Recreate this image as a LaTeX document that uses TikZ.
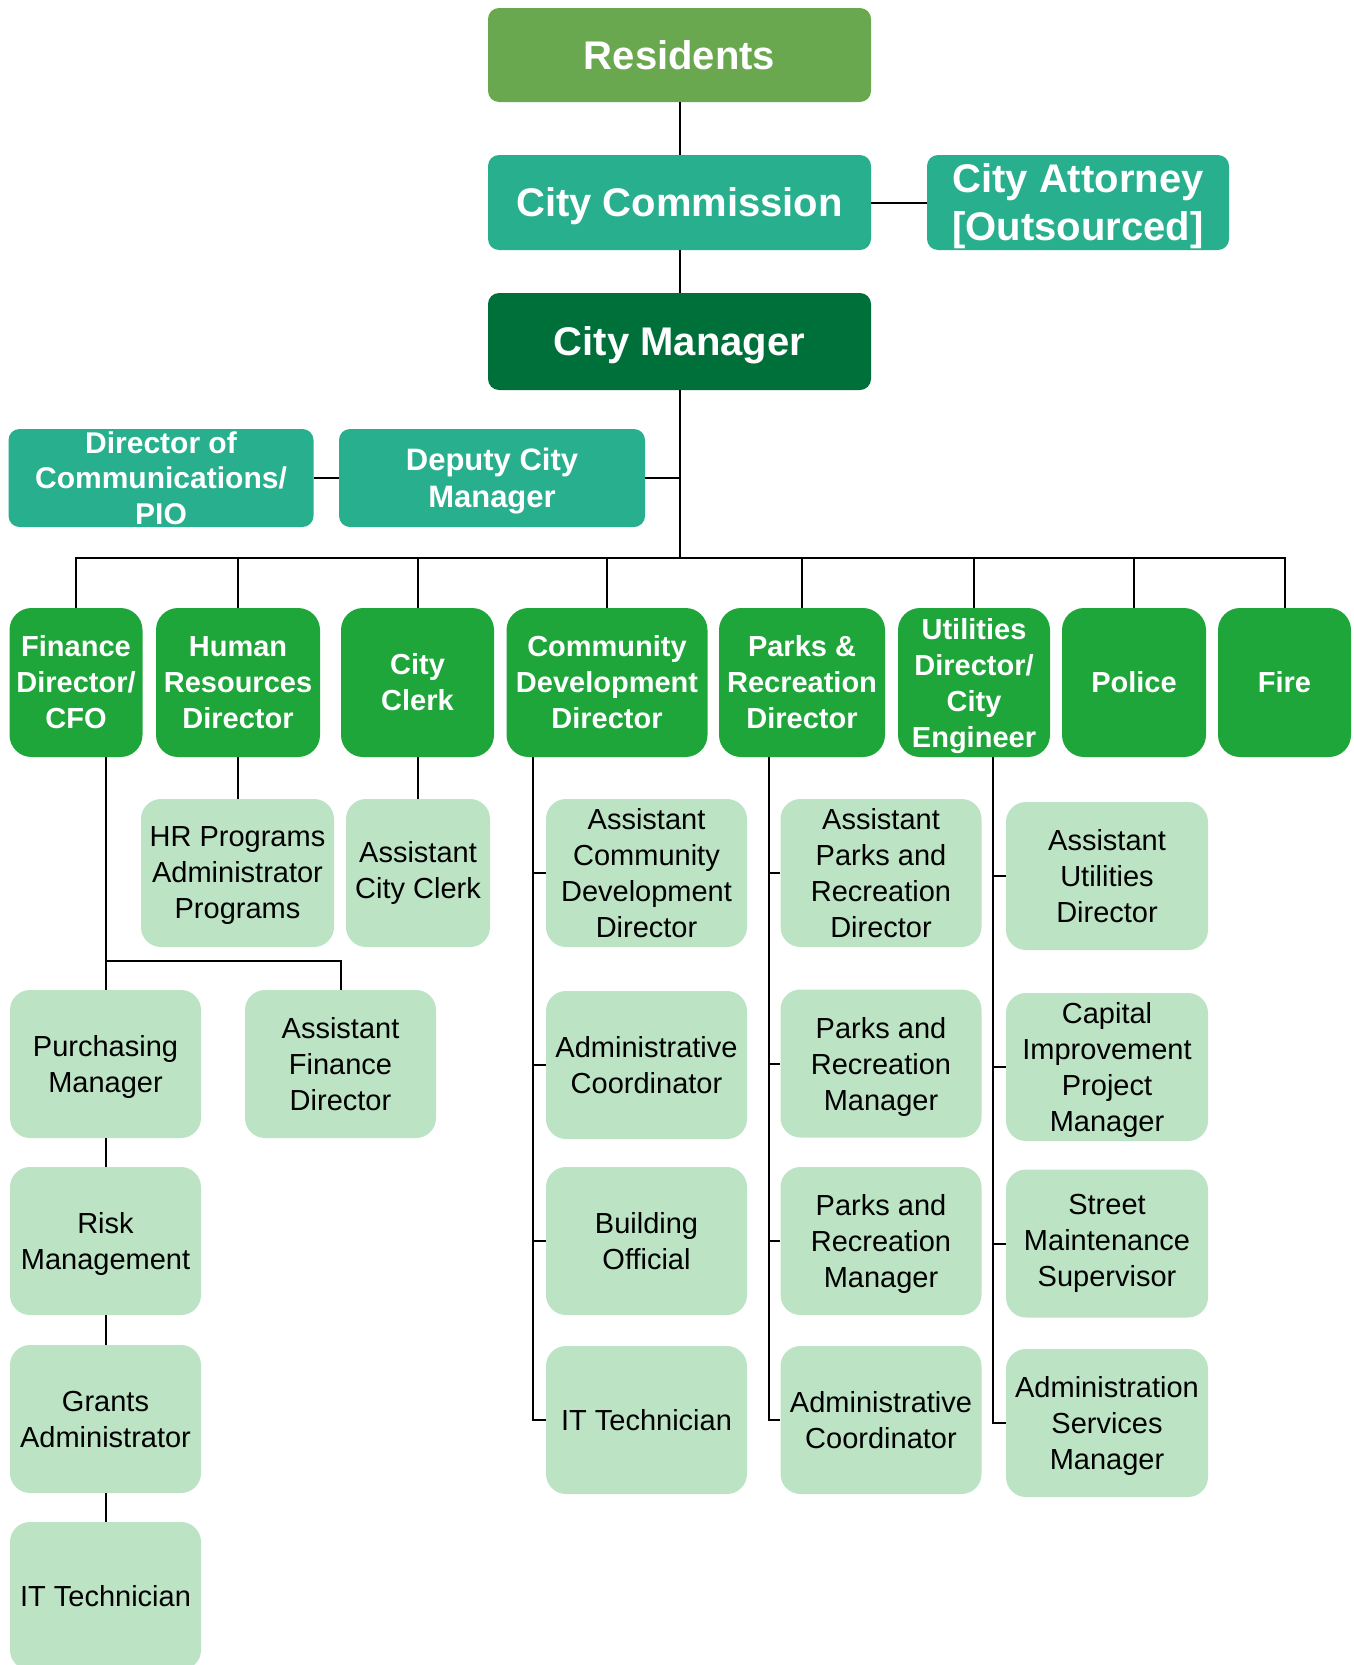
\documentclass[tikz,border=0pt]{standalone}
\usepackage{fontspec}
\setmainfont{Liberation Sans}
\definecolor{resgreen}{HTML}{6AA84F}
\definecolor{tealc}{HTML}{28AF8D}
\definecolor{cmgreen}{HTML}{00703A}
\definecolor{deptgreen}{HTML}{1FA63A}
\definecolor{lightgreen}{HTML}{BBE3C4}
\newcommand\nd[1]{\raisebox{0pt}[\height][0pt]{#1}}
\begin{document}
\begin{tikzpicture}[x=1pt,y=-1pt,
  base/.style={rectangle, inner sep=0pt, align=center, text=white, font=\fontsize{40}{48}\selectfont\bfseries},
  topbox/.style={base, rounded corners=11pt},
  dept/.style={base, fill=deptgreen, rounded corners=22pt, minimum height=149pt, font=\fontsize{29}{36}\selectfont\bfseries},
  sub/.style={rectangle, inner sep=0pt, align=center, fill=lightgreen, rounded corners=20pt, minimum height=148pt, text=black, font=\fontsize{29}{36}\selectfont},
  conn/.style={line width=2pt, black}
]
\useasboundingbox (0,0) rectangle (1354,1665);
\clip (0,0) rectangle (1354,1665);

% top levels
\node[topbox, fill=resgreen, minimum width=383pt, minimum height=94pt] (res) at (679.5,55) {Residents};
\node[topbox, fill=tealc, minimum width=383pt, minimum height=95pt] (comm) at (679.5,202.5) {\nd{City Commission}};
\node[topbox, fill=tealc, minimum width=302pt, minimum height=95pt] (att) at (1078,202.5) {City Attorney\\\nd{[Outsourced]}};
\node[topbox, fill=cmgreen, minimum width=383pt, minimum height=97pt] (cm) at (679.5,341.5) {\nd{City Manager}};
\node[topbox, fill=tealc, minimum width=305pt, minimum height=98pt, font=\fontsize{30}{35.5}\selectfont\bfseries] (pio) at (161,478) {Director of\\Communications/\\PIO};
\node[topbox, fill=tealc, minimum width=306pt, minimum height=98pt, font=\fontsize{31}{37}\selectfont\bfseries] (dep) at (492,478) {Deputy City\\\nd{Manager}};

% departments
\node[dept, minimum width=133pt] (fin) at (76,682.5) {Finance\\Director/\\CFO};
\node[dept, minimum width=164pt] (hr) at (238,682.5) {Human\\Resources\\Director};
\node[dept, minimum width=153pt] (clerk) at (417.5,682.5) {City\\Clerk};
\node[dept, minimum width=201pt] (cd) at (607,682.5) {Community\\Development\\Director};
\node[dept, minimum width=166pt] (parks) at (802,682.5) {Parks \&\\Recreation\\Director};
\node[dept, minimum width=152pt] (util) at (974,682.5) {Utilities\\Director/\\City\\\nd{Engineer}};
\node[dept, minimum width=144pt] (police) at (1134,682.5) {Police};
\node[dept, minimum width=133pt] (fire) at (1284.5,682.5) {Fire};

% HR and clerk subordinates
\node[sub, minimum width=193pt] (hrp) at (237.5,873) {HR Programs\\Administrator\\\nd{Programs}};
\node[sub, minimum width=144pt] (aclerk) at (418,873) {Assistant\\City Clerk};

% finance subordinates
\node[sub, minimum width=191pt] (purch) at (105.5,1064) {Purchasing\\\nd{Manager}};
\node[sub, minimum width=191pt] (afin) at (340.5,1064) {Assistant\\Finance\\Director};
\node[sub, minimum width=191pt] (risk) at (105.5,1241) {Risk\\\nd{Management}};
\node[sub, minimum width=191pt] (grants) at (105.5,1419) {Grants\\Administrator};
\node[sub, minimum width=191pt] (itf) at (105.5,1596) {IT Technician};

% community development
\node[sub, minimum width=201pt] (acd) at (646.5,873) {Assistant\\Community\\Development\\Director};
\node[sub, minimum width=201pt] (cdac) at (646.5,1065) {Administrative\\Coordinator};
\node[sub, minimum width=201pt] (bo) at (646.5,1241) {Building\\Official};
\node[sub, minimum width=201pt] (itcd) at (646.5,1420) {IT Technician};

% parks
\node[sub, minimum width=201pt] (apr) at (881,873) {Assistant\\Parks and\\Recreation\\Director};
\node[sub, minimum width=201pt] (prm1) at (881,1063.5) {Parks and\\Recreation\\\nd{Manager}};
\node[sub, minimum width=201pt] (prm2) at (881,1241) {Parks and\\Recreation\\\nd{Manager}};
\node[sub, minimum width=201pt] (prac) at (881,1420) {Administrative\\Coordinator};

% utilities
\node[sub, minimum width=202pt] (aud) at (1107,876) {Assistant\\Utilities\\Director};
\node[sub, minimum width=202pt] (cip) at (1107,1067) {Capital\\Improvement\\Project\\\nd{Manager}};
\node[sub, minimum width=202pt] (sms) at (1107,1243.5) {Street\\Maintenance\\Supervisor};
\node[sub, minimum width=202pt] (asm) at (1107,1423) {Administration\\Services\\\nd{Manager}};

% connectors: top
\coordinate (busc) at (679.5,557.5);
\draw[conn] (res) -- (comm);
\draw[conn] (comm) -- (att);
\draw[conn] (comm) -- (cm);
\draw[conn] (cm.south) -- (busc);
\draw[conn] (dep.east) -- (dep.east -| busc);
\draw[conn] (pio) -- (dep);

% bus and drops
\draw[conn] (fin.north) |- (busc) -| (fire.north);
\foreach \d in {hr,clerk,cd,parks,util,police}
  \draw[conn] (\d.north) -- (\d.north |- busc);

% HR / clerk
\draw[conn] (hr.south) -- (hr.south |- hrp.north);
\draw[conn] (clerk.south) -- (clerk.south |- aclerk.north);

% finance
\coordinate (fintop) at (105.5,757);
\coordinate (finbr) at (105.5,960.5);
\draw[conn] (fintop) -- (purch.north);
\draw[conn] (finbr) -| (afin.north);
\draw[conn] (purch) -- (risk);
\draw[conn] (risk) -- (grants);
\draw[conn] (grants) -- (itf);

% community development
\coordinate (cdl) at (533,757);
\foreach \b in {acd,cdac,bo,itcd}
  \draw[conn] (cdl) |- (\b.west);

% parks
\coordinate (prl) at (768.6,757);
\foreach \b in {apr,prm1,prm2,prac}
  \draw[conn] (prl) |- (\b.west);

% utilities
\coordinate (utl) at (993,757);
\foreach \b in {aud,cip,sms,asm}
  \draw[conn] (utl) |- (\b.west);
\end{tikzpicture}
\end{document}
